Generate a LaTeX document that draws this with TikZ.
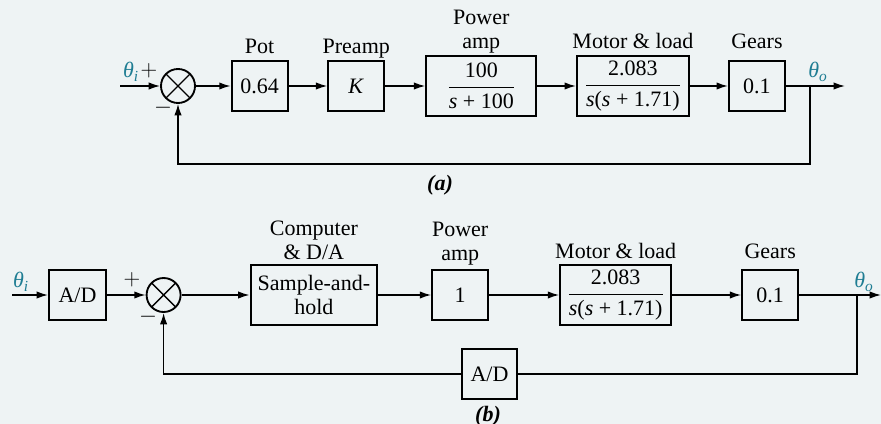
\documentclass[tikz,border=0pt]{standalone}
\usepackage{amsmath}
\usepackage{fontspec}
\setmainfont{Liberation Serif}
\usetikzlibrary{arrows.meta,positioning}
\definecolor{soft}{HTML}{EEF3F4}
\definecolor{sigcol}{HTML}{1F7D93}
\newcommand{\tf}[2]{$\dfrac{\text{#1}}{\text{#2}}$}

\begin{document}
\begin{tikzpicture}[x=0.75pt,y=-0.75pt,
font=\fontsize{16.5}{18}\selectfont,
node distance=29pt,
box/.style={draw,line width=1.5pt,minimum width=42pt,minimum height=37.5pt,inner sep=1pt,align=center},
wide/.style={box,minimum width=83pt,minimum height=45pt},
sum/.style={draw,circle,line width=1.4pt,minimum size=25.5pt,inner sep=0pt,
  path picture={\draw[line width=1pt] (path picture bounding box.north west)--(path picture bounding box.south east)
  (path picture bounding box.north east)--(path picture bounding box.south west);}},
lbl/.style={align=center,inner sep=1pt,text depth=0.25em},
sgn/.style={inner sep=0pt},
theta/.style={text=sigcol,inner sep=0pt},
arr/.style={-{Latex[length=8.5pt,width=5.5pt]},line width=1.1pt},
wire/.style={line width=1.1pt}]
\fill[soft] (0,0) rectangle (881,424);
\useasboundingbox (0,0) rectangle (881,424);
% (a)
\node[sum] (sum1) at (178,86) {};
\node[box,right=26pt of sum1] (pot) {0.64};
\node[box,right=of pot] (preamp) {\textit{K}};
\node[wide,minimum width=82.5pt,right=30pt of preamp] (pamp) {\tf{100}{\textit{s} + 100}};
\node[wide,minimum width=84pt,right=of pamp] (motor) {\tf{2.083}{\textit{s}(\textit{s} + 1.71)}};
\node[box,right=28.5pt of motor] (gears) {0.1};
\node[lbl,above=1pt of pot] (potlbl) {Pot};
\node[lbl,above=1pt of preamp] (preamplbl) {Preamp};
\node[lbl,above=1.5pt of pamp] (pamplbl) {Power\\amp};
\node[lbl,above=1pt of motor] (motorlbl) {Motor \& load};
\node[lbl] (gearslbl) at (gears |- motorlbl) {Gears};
\coordinate (in1) at (120,86);
\coordinate (br1) at (810,86);
\coordinate (out1) at (845,86);
\node[theta] (thi1) at (131,72) {\textit{θ}\textsubscript{\textit{i}}};
\node[theta] (tho1) at (818,72) {\textit{θ}\textsubscript{\textit{o}}};
\node[sgn] (plus1) at (149,71) {$+$};
\node[sgn] (minus1) at (163,108) {$-$};
\draw[arr] (in1) -- (sum1.west);
\draw[arr] (sum1) -- (pot);
\draw[arr] (pot) -- (preamp);
\draw[arr] (preamp) -- (pamp);
\draw[arr] (pamp) -- (motor);
\draw[arr] (motor) -- (gears);
\draw[arr] (gears) -- (out1);
\draw[wire,-{Latex[length=8.5pt,width=5.5pt]}] (br1) -- ++(0,78) -| (sum1.south);
\node (capa) at (440,185) {\textbf{\textit{(a)}}};
% (b)
\node[box,minimum width=42.75pt] (ad1) at (77.5,295) {A/D};
\node[sum,right=29pt of ad1] (sum2) {};
\node[wide,minimum width=95pt,right=51pt of sum2] (samp) {Sample-and-\\hold};
\node[box,right=39.75pt of samp] (pamp2) {1};
\node[wide,minimum width=83.25pt,right=52.5pt of pamp2] (motor2) {\tf{2.083}{\textit{s}(\textit{s} + 1.71)}};
\node[box,right=51.75pt of motor2] (gears2) {0.1};
\node[box,minimum width=41.25pt] (ad2) at (489.5,374) {A/D};
\node[lbl,above=0pt of samp] (samplbl) {Computer\\\& D/A};
\node[lbl,above=3pt of pamp2] (pamp2lbl) {Power\\amp};
\node[lbl,above=0.5pt of motor2] (motor2lbl) {Motor \& load};
\node[lbl] (gears2lbl) at (gears2 |- motor2lbl) {Gears};
\coordinate (in2) at (12,295);
\coordinate (br2) at (857,295);
\coordinate (out2) at (881,295);
\node[theta] (thi2) at (21,282) {\textit{θ}\textsubscript{\textit{i}}};
\node[theta] (tho2) at (864,282) {\textit{θ}\textsubscript{\textit{o}}};
\node[sgn] (plus2) at (132,280) {$+$};
\node[sgn] (minus2) at (148,317) {$-$};
\draw[arr] (in2) -- (ad1);
\draw[arr] (ad1) -- (sum2);
\draw[arr] (sum2) -- (samp);
\draw[arr] (samp) -- (pamp2);
\draw[arr] (pamp2) -- (motor2);
\draw[arr] (motor2) -- (gears2);
\draw[arr] (gears2) -- (out2);
\draw[wire] (br2) |- (ad2.east);
\draw[arr] (ad2.west) -| (sum2.south);
\node (capb) at (488,416) {\textbf{\textit{(b)}}};
\end{tikzpicture}
\end{document}
